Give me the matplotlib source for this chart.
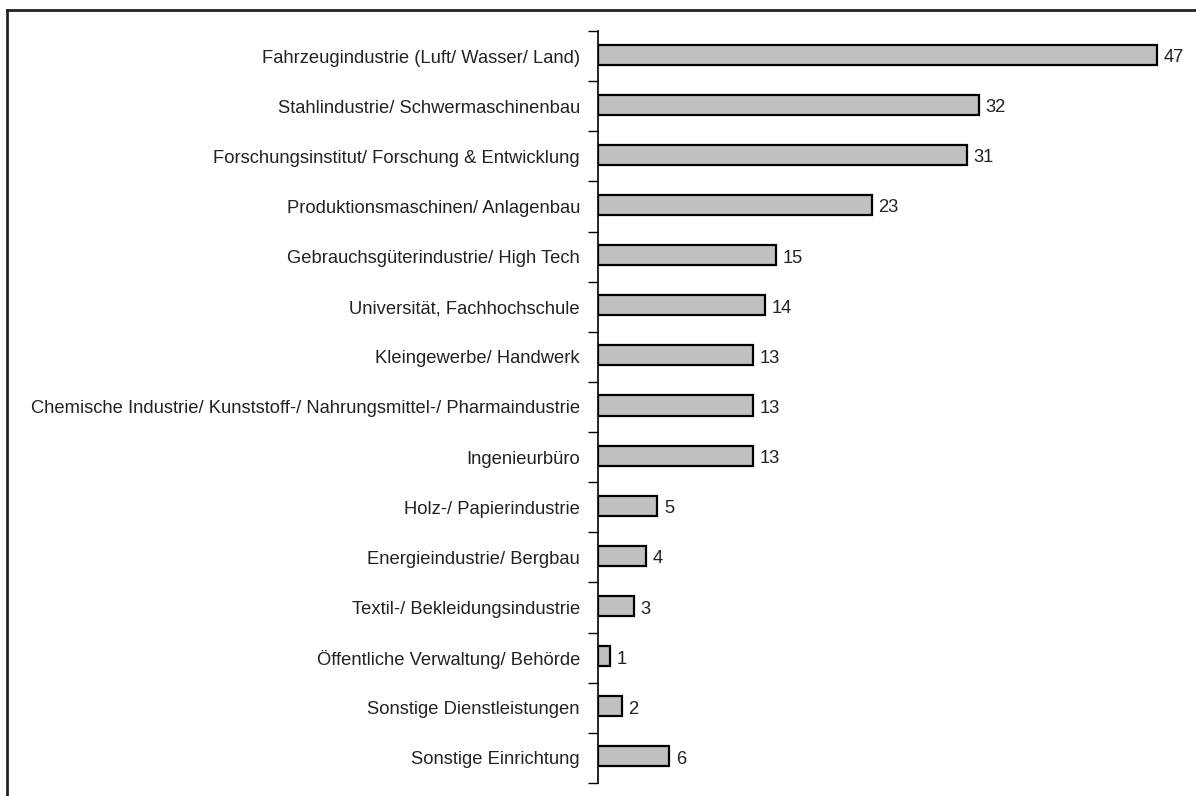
import matplotlib
matplotlib.use("Agg")
import matplotlib.pyplot as plt
from matplotlib.lines import Line2D

categories = [
    "Fahrzeugindustrie (Luft/ Wasser/ Land)",
    "Stahlindustrie/ Schwermaschinenbau",
    "Forschungsinstitut/ Forschung & Entwicklung",
    "Produktionsmaschinen/ Anlagenbau",
    "Gebrauchsgüterindustrie/ High Tech",
    "Universität, Fachhochschule",
    "Kleingewerbe/ Handwerk",
    "Chemische Industrie/ Kunststoff-/ Nahrungsmittel-/ Pharmaindustrie",
    "Ingenieurbüro",
    "Holz-/ Papierindustrie",
    "Energieindustrie/ Bergbau",
    "Textil-/ Bekleidungsindustrie",
    "Öffentliche Verwaltung/ Behörde",
    "Sonstige Dienstleistungen",
    "Sonstige Einrichtung",
]
values = [47, 32, 31, 23, 15, 14, 13, 13, 13, 5, 4, 3, 1, 2, 6]

plt.rcParams['font.family'] = ['Liberation Sans', 'DejaVu Sans']
FS = 13.2

fig = plt.figure(figsize=(11.96, 7.96), dpi=100)
ax = fig.add_axes([598/1196, 13/796, 592/1196, 752/796])

n = len(categories)
ypos = list(range(n))
ax.barh([y - 0.03 for y in ypos], values, height=0.4, color='#c0c0c0',
        edgecolor='black', linewidth=1.6)
ax.set_ylim(n - 0.5, -0.5)
ax.set_xlim(0, 49.75)

for y, v in zip(ypos, values):
    ax.text(v + 0.55, y - 0.01, str(v), va='center_baseline', ha='left', fontsize=FS,
            color='#222222')

for s in ['top', 'right', 'bottom']:
    ax.spines[s].set_visible(False)
ax.spines['left'].set_linewidth(1.2)
ax.set_xticks([])
ax.set_yticks([i - 0.5 for i in range(n + 1)], minor=False)
ax.set_yticklabels([])
ax.tick_params(axis='y', which='major', length=7, width=1, direction='out')
ax.set_yticks(ypos, minor=True)
ax.set_yticklabels(categories, minor=True, fontsize=FS, color='#222222')
ax.tick_params(axis='y', which='minor', length=0, pad=13)

fig.add_artist(Line2D([7/1196, 7/1196], [0, 1 - 10/796], transform=fig.transFigure, color='#222222', lw=2))
fig.add_artist(Line2D([7/1196, 1], [1 - 10/796, 1 - 10/796], transform=fig.transFigure, color='#222222', lw=2))

fig.savefig("out.png", dpi=100)
